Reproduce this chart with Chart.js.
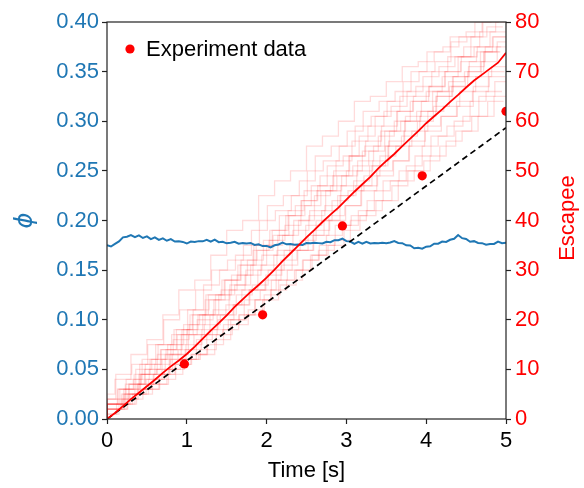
<!DOCTYPE html>
<html>
<head>
<meta charset="utf-8">
<script src="https://cdn.jsdelivr.net/npm/chart.js@4.4.1/dist/chart.umd.min.js"></script>
<style>
html,body{margin:0;padding:0;background:#fff;}
canvas{display:block;}
</style>
</head>
<body>
<canvas id="c" width="584" height="488"></canvas>
<script>
// ---------------- DATA ----------------
const xTickValues = [0, 1, 2, 3, 4, 5];
const phiTickStep = 0.05;
const escTickStep = 10;

// Experiment data (time [s], escapees)
const expTimes = [0.97, 1.95, 2.95, 3.95, 5.0];
const expEscapees = [11.1, 21.0, 38.9, 49.0, 62.0];

// Dashed reference line (time, escapees)
const refTimes = [0, 5];
const refEscapees = [0, 58.7];

// Mean simulated escapees, sampled every 0.1 s
const meanStep = 0.1;
const meanEscapees = [0, 1.2, 2.6, 4.0, 5.3, 6.6, 7.9, 9.3, 10.6, 11.8,
  13.1, 14.6, 16.2, 17.8, 19.3, 20.9, 22.6, 24.1, 25.6, 27.0,
  28.5, 30.1, 31.8, 33.4, 35.0, 36.6, 38.1, 39.7, 41.2, 42.6,
  44.2, 45.8, 47.3, 48.8, 50.5, 52.0, 53.4, 55.0, 56.5, 58.0,
  59.6, 61.0, 62.4, 63.9, 65.3, 66.8, 68.2, 69.4, 70.6, 71.8, 73.8];

// Individual simulation runs, sampled every 0.2 s (each with its own sampling phase)
const runStep = 0.2;
const runA = [0,5,8,13,16,21,26,28,33,38,40,45,48,50,55,57,60,64,65,68,71,72,74,77,78,81];
const runB = [0,3,6,11,15,17,22,27,30,33,38,43,45,48,53,55,58,62,64,66,70,74,75,77,80,83];
const runC = [0,1,3,6,7,9,12,13,16,20,21,24,28,30,33,37,39,42,46,48,51,55,57,60,64,66];
const runD = [0,2,5,6,8,11,13,15,19,21,24,28,30,32,35,39,41,44,48,50,53,57,59,61,65,68];
const runE = [0,3,6,8,10,13,17,20,22,26,29,31,34,38,41,43,47,50,52,56,60,62,65,69,71,74];
const runF = [0,3,7,9,13,16,19,24,26,29,34,36,39,44,46,49,53,55,58,62,64,67,70,72,74,77];
const runG = [0,2,5,7,9,13,14,17,21,23,26,28,32,34,37,41,43,46,50,52,55,59,61,64,66,70];
const runH = [0,4,7,11,14,17,22,24,28,32,34,37,41,43,46,49,51,54,58,60,62,66,68,70,74,75];
const runI = [0,1,3,5,8,10,12,16,18,20,24,26,30,34,37,40,45,47,51,55,58,61,65,67,70,74];
const runJ = [0,3,5,9,11,15,18,21,25,27,31,35,37,40,45,47,50,54,57,60,64,66,69,73,75,78];
const runK = [0,2,4,6,9,11,13,17,18,21,24,26,28,32,34,36,40,42,44,48,50,53,56,58,61,65];
const runL = [0,3,6,10,12,15,19,21,25,29,32,36,41,43,47,51,53,57,61,63,66,69,71,73,77,79];
const runM = [0,2,5,9,10,13,17,19,21,25,27,30,34,36,40,44,46,49,53,55,58,62,63,66,69,71];
const runN = [0,4,9,11,15,20,22,26,30,32,35,40,42,45,50,52,55,59,61,64,68,70,72,76,77,80];
const runO = [0,3,7,10,14,18,21,25,28,31,35,38,42,46,49,52,56,59,62,65,67,70,73,75,78,80];
const runP = [0,2,4,7,9,12,15,18,20,23,26,29,31,34,38,40,43,47,49,52,56,58,61,63,67,69];
const runQ = [0,3,6,9,12,14,18,21,24,27,30,33,37,40,42,46,49,52,55,58,61,64,66,69,72,75];
const runR = [0,4,8,12,15,18,21,25,28,31,35,38,41,44,47,50,53,56,59,62,65,67,70,73,75,77];
const runS = [0,2,3,5,7,10,12,14,17,19,22,25,27,30,33,35,38,41,44,47,50,52,55,58,61,64];
const runT = [0,3,5,8,12,14,17,21,23,26,30,33,35,39,42,45,48,51,55,57,60,63,67,69,72,76];
const runs = [runA, runB, runC, runD, runE, runF, runG, runH, runI, runJ,
              runK, runL, runM, runN, runO, runP, runQ, runR, runS, runT];
const runPhase = [0.00, 0.11, 0.05, 0.16, 0.03, 0.13, 0.08, 0.18, 0.02, 0.10,
                  0.15, 0.06, 0.12, 0.01, 0.17, 0.09, 0.04, 0.14, 0.07, 0.19];

// Packing fraction phi, sampled every 0.05 s
const phiStep = 0.05;
const phiValues = [0.1750,0.1738,0.1764,0.1789,0.1830,0.1836,0.1852,0.1832,0.1850,0.1824,
  0.1840,0.1812,0.1830,0.1804,0.1820,0.1796,0.1812,0.1788,0.1790,0.1784,
  0.1768,0.1788,0.1784,0.1792,0.1790,0.1806,0.1786,0.1808,0.1782,0.1786,
  0.1770,0.1776,0.1786,0.1766,0.1772,0.1769,0.1774,0.1754,0.1760,0.1742,
  0.1744,0.1728,0.1750,0.1758,0.1778,0.1760,0.1764,0.1756,0.1758,0.1754,
  0.1774,0.1770,0.1776,0.1772,0.1768,0.1786,0.1782,0.1802,0.1802,0.1818,
  0.1792,0.1788,0.1764,0.1784,0.1766,0.1786,0.1768,0.1774,0.1770,0.1776,
  0.1772,0.1778,0.1792,0.1774,0.1772,0.1750,0.1748,0.1720,0.1726,0.1716,
  0.1736,0.1740,0.1766,0.1766,0.1788,0.1784,0.1806,0.1816,0.1854,0.1822,
  0.1814,0.1786,0.1792,0.1774,0.1772,0.1756,0.1764,0.1764,0.1788,0.1772,0.1776];

// ---------------- STYLE ----------------
const FONT = "'Liberation Sans', Arial, Helvetica, sans-serif";
const BLUE = '#1f77b4';
const RED = '#ff0000';

function series(step, vals) {
  return vals.map((v, i) => ({ x: +(i * step).toFixed(4), y: v }));
}
function runSeries(vals, phase) {
  return vals.map((v, i) => ({ x: i === 0 ? 0 : +(i * runStep - runStep + phase + 0.1).toFixed(4), y: v }));
}

const datasets = [];
// index 0 is drawn on top
datasets.push({
  label: 'Experiment data', yAxisID: 'y1',
  data: expTimes.map((t, i) => ({ x: t, y: expEscapees[i] })),
  showLine: false, pointRadius: 4.6, pointBackgroundColor: RED, pointBorderWidth: 0, borderColor: RED
});
datasets.push({
  label: 'mean', yAxisID: 'y1', data: series(meanStep, meanEscapees),
  borderColor: RED, borderWidth: 1.8, pointRadius: 0, tension: 0
});
datasets.push({
  label: 'ref', yAxisID: 'y1',
  data: refTimes.map((t, i) => ({ x: t, y: refEscapees[i] })),
  borderColor: '#000', borderWidth: 1.7, borderDash: [6, 4], pointRadius: 0
});
datasets.push({
  label: 'phi', yAxisID: 'y', data: series(phiStep, phiValues),
  borderColor: BLUE, borderWidth: 2, pointRadius: 0, tension: 0
});
runs.forEach((r, k) => {
  datasets.push({
    label: 'run' + k, yAxisID: 'y1', data: runSeries(r, runPhase[k]),
    borderColor: 'rgba(255,0,0,0.14)', borderWidth: 1.3, pointRadius: 0, stepped: 'after'
  });
});

const decorPlugin = {
  id: 'decor',
  afterDraw(chart) {
    const { ctx, chartArea: a } = chart;
    ctx.save();
    // frame
    ctx.strokeStyle = '#222';
    ctx.lineWidth = 1.2;
    ctx.strokeRect(a.left, a.top, a.right - a.left, a.bottom - a.top);
    // legend
    ctx.fillStyle = RED;
    ctx.beginPath();
    ctx.arc(130, 49, 4.6, 0, Math.PI * 2);
    ctx.fill();
    ctx.fillStyle = '#000';
    ctx.font = '22px ' + FONT;
    ctx.textAlign = 'left';
    ctx.textBaseline = 'middle';
    ctx.fillText('Experiment data', 146, 50);
    // right axis title (reads bottom to top)
    ctx.translate(568, 218);
    ctx.rotate(-Math.PI / 2);
    ctx.fillStyle = RED;
    ctx.textAlign = 'center';
    ctx.fillText('Escapee', 0, 0);
    ctx.restore();
  }
};

new Chart(document.getElementById('c'), {
  type: 'line',
  data: { datasets },
  plugins: [decorPlugin],
  options: {
    responsive: false,
    animation: false,
    layout: { padding: { top: 22, left: 0, right: 0, bottom: 0 } },
    plugins: { legend: { display: false }, tooltip: { enabled: false } },
    scales: {
      x: {
        type: 'linear', min: 0, max: 5,
        afterBuildTicks(s) { s.ticks = xTickValues.map(v => ({ value: v })); },
        ticks: { color: '#000', font: { size: 22, family: FONT }, padding: 4, maxRotation: 0 },
        grid: { drawOnChartArea: false, drawTicks: true, tickLength: 5, tickColor: '#222', tickWidth: 1.2 },
        border: { display: false },
        title: { display: true, text: 'Time [s]', color: '#000', font: { size: 22, family: FONT }, padding: { top: 0, bottom: 4 } },
        afterFit(s) { s.height = 69; }
      },
      y: {
        position: 'left', min: 0, max: 0.4,
        ticks: { stepSize: phiTickStep, color: BLUE, font: { size: 22, family: FONT }, padding: 3,
          callback: v => v.toFixed(2) },
        grid: { drawOnChartArea: false, drawTicks: true, tickLength: 5, tickColor: '#222', tickWidth: 1.2 },
        border: { display: false },
        title: { display: true, text: 'ϕ', color: BLUE, font: { size: 24, family: "'DejaVu Sans'", style: 'italic' }, padding: { top: 11, bottom: 0 } },
        afterFit(s) { s.width = 107; }
      },
      y1: {
        position: 'right', min: 0, max: 80,
        ticks: { stepSize: escTickStep, color: RED, font: { size: 22, family: FONT }, padding: 4 },
        grid: { drawOnChartArea: false, drawTicks: true, tickLength: 5, tickColor: '#222', tickWidth: 1.2 },
        border: { display: false },
        afterFit(s) { s.width = 78; }
      }
    }
  }
});
</script>
</body>
</html>
